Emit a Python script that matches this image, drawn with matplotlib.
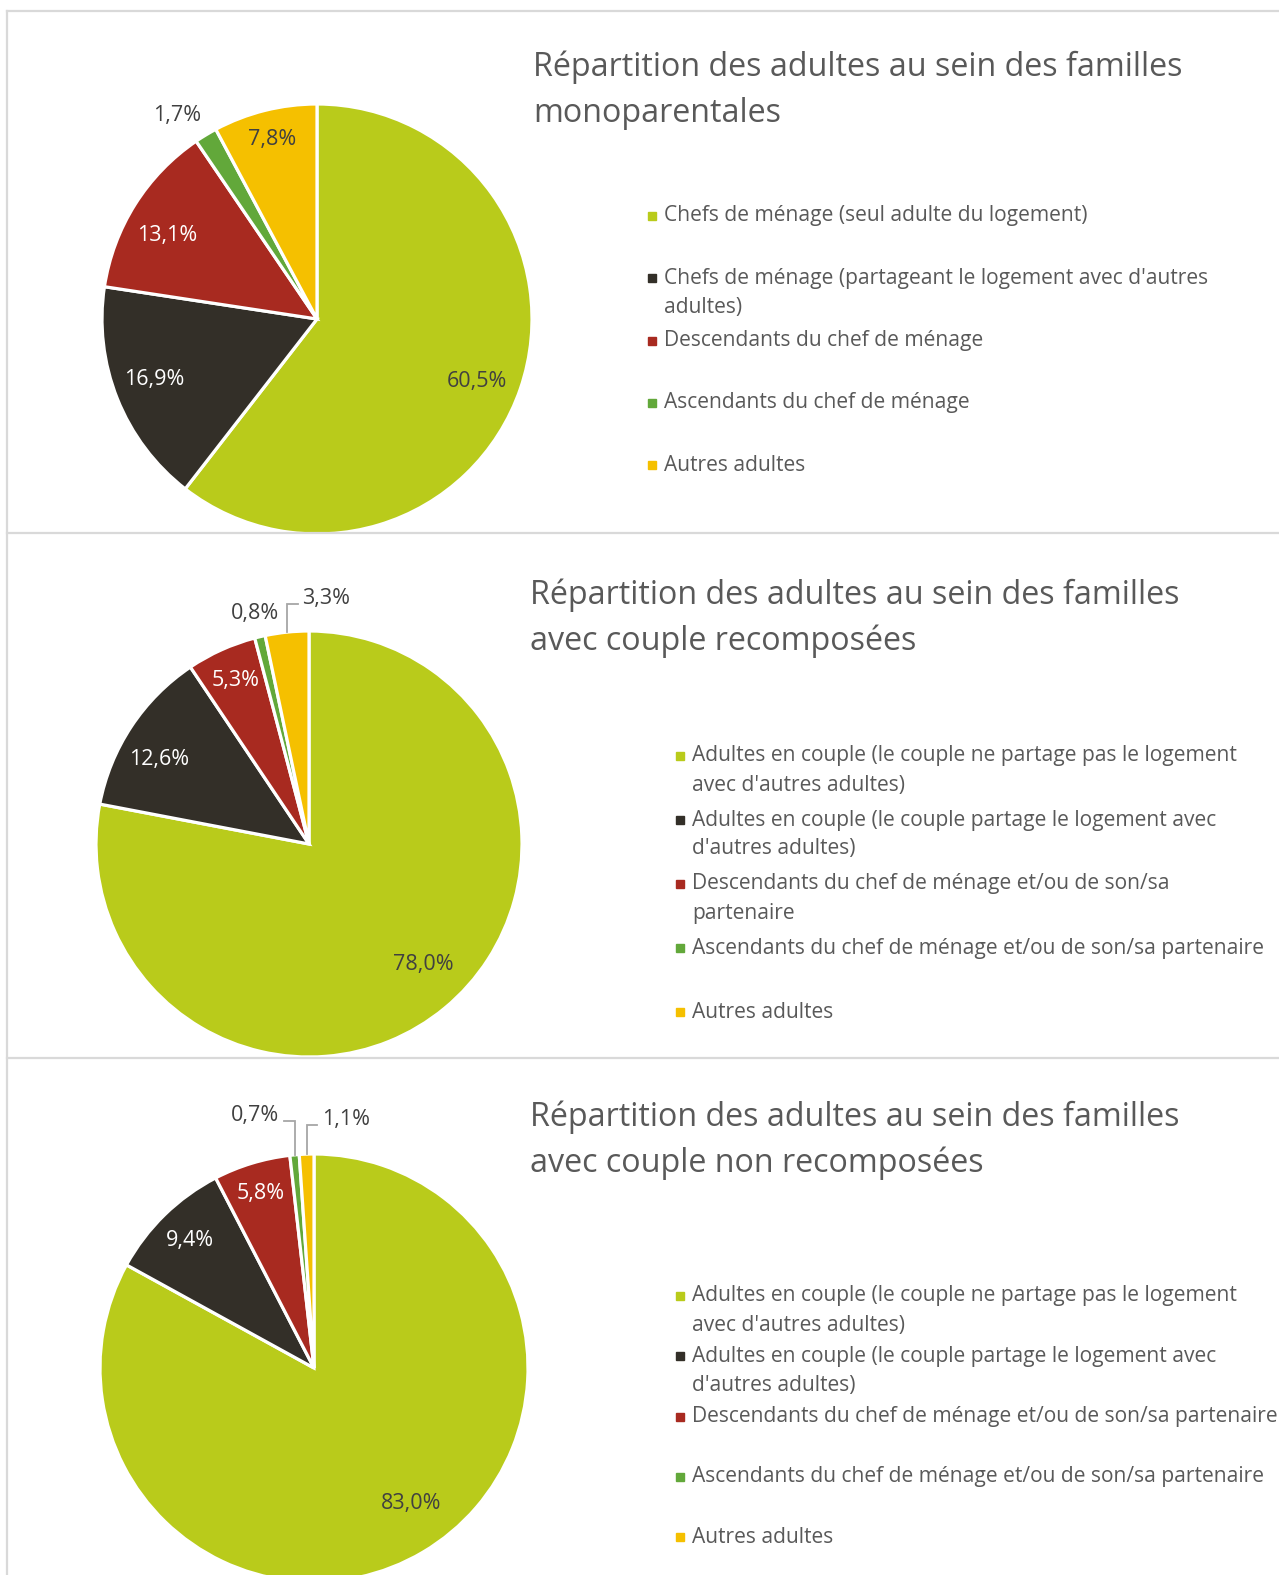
import numpy as np
import matplotlib
matplotlib.use('Agg')
from matplotlib import pyplot as plt
from matplotlib.lines import Line2D

plt.rcParams['font.family'] = ['Open Sans', 'DejaVu Sans']

W, H = 1279, 1575

titles = [
    "Répartition des adultes au sein des familles\nmonoparentales",
    "Répartition des adultes au sein des familles\navec couple recomposées",
    "Répartition des adultes au sein des familles\navec couple non recomposées",
]

legend_1 = [
    "Chefs de ménage (seul adulte du logement)",
    "Chefs de ménage (partageant le logement avec d'autres\nadultes)",
    "Descendants du chef de ménage",
    "Ascendants du chef de ménage",
    "Autres adultes",
]
legend_2 = [
    "Adultes en couple (le couple ne partage pas le logement\navec d'autres adultes)",
    "Adultes en couple (le couple partage le logement avec\nd'autres adultes)",
    "Descendants du chef de ménage et/ou de son/sa\npartenaire",
    "Ascendants du chef de ménage et/ou de son/sa partenaire",
    "Autres adultes",
]
legend_3 = [
    "Adultes en couple (le couple ne partage pas le logement\navec d'autres adultes)",
    "Adultes en couple (le couple partage le logement avec\nd'autres adultes)",
    "Descendants du chef de ménage et/ou de son/sa partenaire",
    "Ascendants du chef de ménage et/ou de son/sa partenaire",
    "Autres adultes",
]

values_1 = [60.5, 16.9, 13.1, 1.7, 7.8]
values_2 = [78.0, 12.6, 5.3, 0.8, 3.3]
values_3 = [83.0, 9.4, 5.8, 0.7, 1.1]

colors = ['#B9CB1B', '#332F28', '#A82A20', '#62A83A', '#F5C000']
label_colors = ['#404040', '#FFFFFF', '#FFFFFF', '#404040', '#404040']
text_grey = '#595959'
leader_grey = '#A6A6A6'

# layout, in pixels of the full image (y from top)
# lab_r: radial factor of each label, lab_da: angle nudge (deg)
panels = [
    dict(values=values_1, legend=legend_1, title=titles[0],
         center=(317, 319), r=215, title_xy=(533, 67),
         leg_x=652, leg_y=216, leg_step=62.3,
         lab_r=[0.80, 0.81, 0.80, 1.15, 0.86],
         lab_da=[-2.5, -1.3, 3, 3.4, 0], leaders={}),
    dict(values=values_2, legend=legend_2, title=titles[1],
         center=(309, 844), r=213, title_xy=(530, 595),
         leg_x=680, leg_y=756, leg_step=64.0,
         lab_r=[0.78, 0.81, 0.84, 1.11, None],
         lab_da=[4, 4, 0, 0, 0],
         leaders={4: (0.127, +1)}),
    dict(values=values_3, legend=legend_3, title=titles[2],
         center=(314, 1368), r=214, title_xy=(530, 1117),
         leg_x=680, leg_y=1296, leg_step=60.3,
         lab_r=[0.78, 0.83, 0.85, None, None],
         lab_da=[5, 0, 0, 0, 0],
         leaders={3: (0.155, -1), 4: (0.135, +1)}),
]


def fx(x):
    return x / W


def fy(y):
    return 1 - y / H


fig = plt.figure(figsize=(W / 100, H / 100), dpi=100)

for p in panels:
    cx, cy = p['center']
    r = p['r']
    ax = fig.add_axes([fx(cx - r), fy(cy + r), 2 * r / W, 2 * r / H])
    vals = p['values']
    ax.pie(vals, colors=colors, startangle=90, counterclock=False, radius=1,
           wedgeprops=dict(edgecolor='white', linewidth=2.3))
    ax.set_xlim(-1, 1)
    ax.set_ylim(-1, 1)
    ax.set_aspect('equal')
    ax.axis('off')

    total = sum(vals)
    cum = np.cumsum([0] + vals[:-1])
    for i, v in enumerate(vals):
        mid = np.deg2rad(90 - (cum[i] + v / 2) / total * 360)
        txt = ('%.1f%%' % v).replace('.', ',')
        if i in p['leaders']:
            up, side = p['leaders'][i]
            ex, ey = np.cos(mid), np.sin(mid)
            yl = 1 + up
            xe = ex + side * 0.05
            ax.plot([ex, ex, xe], [ey, yl, yl], color=leader_grey, lw=1.3,
                    solid_joinstyle='miter', clip_on=False)
            ax.text(xe + side * 0.02, yl + 0.025, txt, fontsize=15.5,
                    color='#404040', ha='left' if side > 0 else 'right',
                    va='center', clip_on=False)
        else:
            f = p['lab_r'][i]
            a = mid + np.deg2rad(p['lab_da'][i])
            col = label_colors[i] if f < 1 else '#404040'
            ax.text(f * np.cos(a), f * np.sin(a), txt, fontsize=15.5,
                    color=col, ha='center', va='center', clip_on=False)

    tx, ty = p['title_xy']
    for k, line in enumerate(p['title'].split('\n')):
        fig.text(fx(tx), fy(ty + k * 46.5), line, fontsize=23.2,
                 color=text_grey, ha='left', va='center')

    for i, entry in enumerate(p['legend']):
        y0 = p['leg_y'] + i * p['leg_step']
        fig.patches.append(plt.Rectangle((fx(p['leg_x'] - 4), fy(y0 + 4)),
                                         8 / W, 8 / H, color=colors[i],
                                         transform=fig.transFigure))
        for k, line in enumerate(entry.split('\n')):
            fig.text(fx(p['leg_x'] + 12), fy(y0 + k * 29), line, fontsize=15.1,
                     color=text_grey, ha='left', va='center')

# panel frames
border = '#D9D9D9'
fig.add_artist(Line2D([fx(7), fx(7)], [fy(11), 0], color=border, lw=1.6))
for yb in [11, 533, 1058]:
    fig.add_artist(Line2D([fx(7), 1], [fy(yb), fy(yb)], color=border, lw=1.6))

fig.savefig('out.png', dpi=100)
